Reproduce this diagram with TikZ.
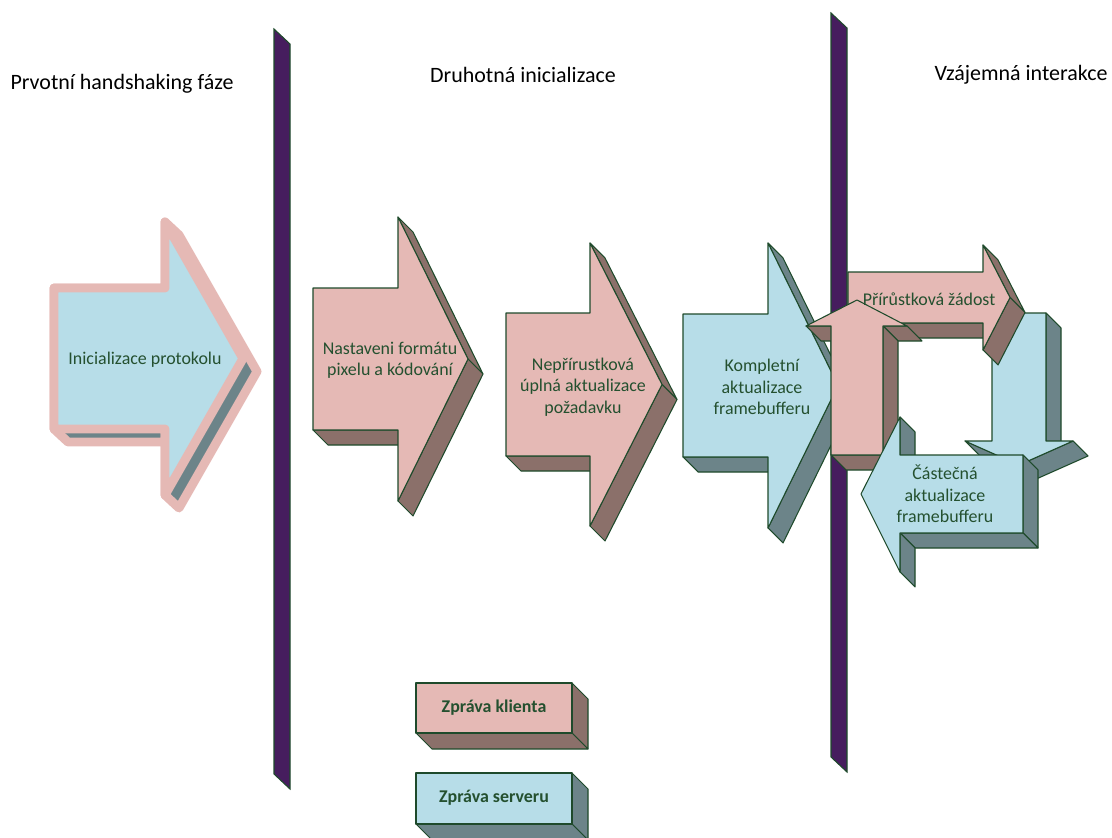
\documentclass[tikz,border=0pt]{standalone}
\usepackage{fontspec}
\setmainfont{Carlito}
\usepackage{tikz}
\definecolor{pinkface}{HTML}{E5B9B5}
\definecolor{pinkside}{HTML}{8B706A}
\definecolor{blueface}{HTML}{B7DDE8}
\definecolor{blueside}{HTML}{6C8489}
\definecolor{barpurple}{HTML}{461D5E}
\definecolor{edgegreen}{HTML}{1E4A2B}
\definecolor{textgreen}{HTML}{24502F}
\tikzset{
  face/.style={draw=edgegreen, line width=0.6pt, line join=round},
  thickpink/.style={draw=pinkface, line width=5.1pt, line join=round},
  bar/.style={fill=barpurple, draw=edgegreen, line width=0.6pt},
  hdr/.style={font=\fontsize{12.5}{15}\selectfont},
  lbl/.style={text=textgreen, align=center, font=\fontsize{10.2}{12.2}\selectfont},
  legend/.style={text=textgreen, font=\bfseries\fontsize{10.2}{12.2}\selectfont}
}
% right pointing block arrow: left, notch, tip, body top, body bottom, head top, head bottom, front, side
\newcommand{\blockright}[9]{%
  \filldraw[face,fill=#9] (#1,#5) -- (#2,#5) -- (#2+15,#5+15) -- (#1+15,#5+15) -- cycle;
  \filldraw[face,fill=#9] (#2,#6) -- (#2+15,#6+15) -- ({#3+15},{(#4+#5)/2+15}) -- ({#3},{(#4+#5)/2}) -- cycle;
  \filldraw[face,fill=#9] ({#3},{(#4+#5)/2}) -- ({#3+15},{(#4+#5)/2+15}) -- (#2+15,#7+15) -- (#2,#7) -- cycle;
  \filldraw[face,fill=#8] (#1,#4) -- (#2,#4) -- (#2,#6) -- ({#3},{(#4+#5)/2}) -- (#2,#7) -- (#2,#5) -- (#1,#5) -- cycle;
}

\begin{document}
\begin{tikzpicture}[x=0.02cm, y=-0.02cm]
\useasboundingbox (0,0) rectangle (1112,838);

% phase bars
\filldraw[bar] (274,29) -- (290,44) -- (290,789) -- (274,774) -- cycle;
\filldraw[bar] (831,13) -- (847,28) -- (847,772) -- (831,757) -- cycle;

\node[hdr] (phase1) at (122,84) {Prvotní handshaking fáze};
\node[hdr] (phase2) at (523,75) {Druhotná inicializace};
\node[hdr] (phase3) at (1021,75) {Vzájemná interakce};

% first arrow
\filldraw[thickpink, fill=blueside] (54,288) -- (165,288) -- (165,222) -- (179,235) -- (257,371.5) -- (179,508)
  -- (165,495) -- (165,429) -- (179,442) -- (68,442) -- (54,429) -- cycle;
\filldraw[thickpink, fill=blueface] (54,288) -- (165,288) -- (165,222) -- (243,358.5) -- (165,495)
  -- (165,429) -- (54,429) -- cycle;

\blockright{313}{398}{468}{288}{430}{217}{501}{pinkface}{pinkside}
\blockright{506}{590}{662}{313}{456}{243}{526}{pinkface}{pinkside}
\blockright{683}{768}{838}{314}{457}{243}{528}{blueface}{blueside}

% down arrow
\filldraw[face,fill=blueside] (1046,313) -- (1061,328) -- (1061,456) -- (1046,441) -- cycle;
\filldraw[face,fill=blueside] (1073,441) -- (1088,456) -- (1034,480) -- (1019,465) -- cycle;
\filldraw[face,fill=blueside] (965,441) -- (1019,465) -- (1034,480) -- (980,456) -- cycle;
\filldraw[face,fill=blueface] (992,313) -- (1046,313) -- (1046,441) -- (1073,441) -- (1019,465) -- (965,441) -- (992,441) -- cycle;

\blockright{848}{983}{1010}{272}{323}{245}{350}{pinkface}{pinkside}

% up arrow
\filldraw[face,fill=pinkside] (806,326) -- (831,326) -- (846,341) -- (821,341) -- cycle;
\filldraw[face,fill=pinkside] (883,326) -- (907,326) -- (922,341) -- (898,341) -- cycle;
\filldraw[face,fill=pinkside] (883,326) -- (883,455) -- (898,470) -- (898,341) -- cycle;
\filldraw[face,fill=pinkside] (831,455) -- (883,455) -- (898,470) -- (846,470) -- cycle;
\filldraw[face,fill=pinkface] (831,455) -- (831,326) -- (806,326) -- (857,300) -- (907,326) -- (883,326) -- (883,455) -- cycle;

% left arrow
\filldraw[face,fill=blueside] (900,417) -- (915,432) -- (915,470) -- (900,455) -- cycle;
\filldraw[face,fill=blueside] (1023,455) -- (1038,470) -- (1038,548) -- (1023,533) -- cycle;
\filldraw[face,fill=blueside] (900,533) -- (1023,533) -- (1038,548) -- (915,548) -- cycle;
\filldraw[face,fill=blueside] (900,533) -- (900,572) -- (915,587) -- (915,548) -- cycle;
\filldraw[face,fill=blueface] (1023,455) -- (900,455) -- (900,417) -- (861,494) -- (900,572) -- (900,533) -- (1023,533) -- cycle;

% legend
\filldraw[face,fill=pinkside] (572,683) -- (588,699) -- (588,749) -- (572,733) -- cycle;
\filldraw[face,fill=pinkside] (416,733) -- (572,733) -- (588,749) -- (432,749) -- cycle;
\filldraw[face,fill=pinkface] (416,683) rectangle (572,733);
\filldraw[face,fill=blueside] (572,773) -- (588,789) -- (588,840) -- (572,824) -- cycle;
\filldraw[face,fill=blueside] (416,824) -- (572,824) -- (588,840) -- (432,840) -- cycle;
\filldraw[face,fill=blueface] (416,773) rectangle (572,824);

\node[lbl] (init) at (145,360) {Inicializace protokolu};
\node[lbl] (pixfmt) at (390,360) {Nastaveni formátu\\pixelu a kódování};
\node[lbl] (fullreq) at (583,387) {Nepřírustková\\úplná aktualizace\\požadavku};
\node[lbl] (fullupd) at (762,387) {Kompletní\\aktualizace\\framebufferu};
\node[lbl] (increq) at (929,299) {Přírůstková žádost};
\node[lbl] (partupd) at (945,494) {Částečná\\aktualizace\\framebufferu};
\node[legend] (client) at (494,708) {Zpráva klienta};
\node[legend] (server) at (494,798) {Zpráva serveru};
\end{tikzpicture}
\end{document}
